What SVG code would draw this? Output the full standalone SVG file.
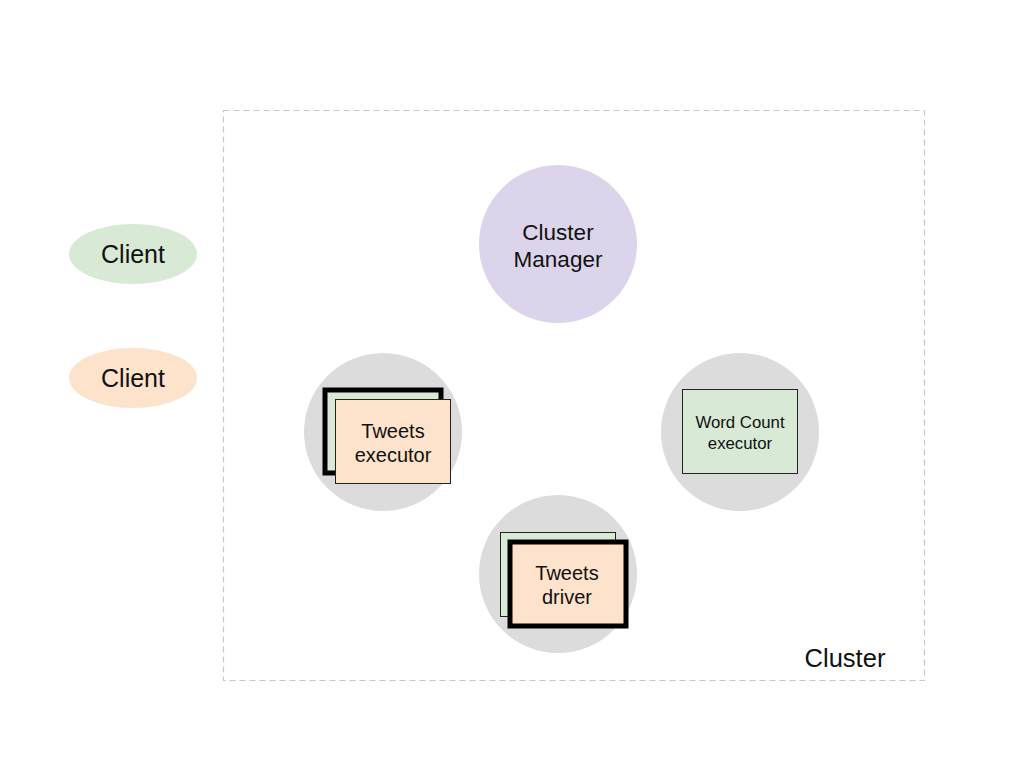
<svg xmlns="http://www.w3.org/2000/svg" width="1024" height="768" viewBox="0 0 1024 768">
<style>
text{font-family:"Liberation Sans",Arial,sans-serif;fill:#111;text-anchor:middle}
.host{fill:#dcdcdc}
.g{fill:#d8ead5}
.o{fill:#fde2cc}
.thin{stroke:#222;stroke-width:1}
.thick{stroke:#000;stroke-width:5}
</style>
<rect width="1024" height="768" fill="#fff"/>
<g id="cluster">
<rect x="223.5" y="110.5" width="701" height="570" fill="none" stroke="#c8c8c8" stroke-width="1.2" stroke-dasharray="6,4"/>
<text x="845" y="667" font-size="25.5">Cluster</text>
</g>
<g id="client1">
<ellipse cx="133" cy="254" rx="64" ry="30" fill="#d8ead5"/>
<text x="133" y="263" font-size="25">Client</text>
</g>
<g id="client2">
<ellipse cx="133" cy="378" rx="64" ry="30" fill="#fde2cc"/>
<text x="133" y="387" font-size="25">Client</text>
</g>
<g id="cluster-manager">
<circle cx="558" cy="244" r="79" fill="#dcd4ea"/>
<text x="558" y="240" font-size="22.5">Cluster</text>
<text x="558" y="267" font-size="22.5">Manager</text>
</g>
<g id="tweets-executor">
<circle class="host" cx="383" cy="432" r="79"/>
<rect class="g thick" x="325" y="390" width="116" height="83"/>
<rect class="o thin" x="335.5" y="399.5" width="115" height="84"/>
<text x="393" y="438" font-size="20">Tweets</text>
<text x="393" y="462" font-size="20">executor</text>
</g>
<g id="word-count-executor">
<circle class="host" cx="740" cy="432" r="79"/>
<rect class="g thin" x="682.5" y="389.5" width="115" height="84"/>
<text x="740" y="428" font-size="16.8">Word Count</text>
<text x="740" y="449" font-size="16.8">executor</text>
</g>
<g id="tweets-driver">
<circle class="host" cx="558" cy="574" r="79"/>
<rect class="g thin" x="500.5" y="532.5" width="115" height="84"/>
<rect class="o thick" x="510" y="542" width="116" height="84"/>
<text x="567" y="580" font-size="20">Tweets</text>
<text x="567" y="604" font-size="20">driver</text>
</g>
<g id="connectors"/>
</svg>
